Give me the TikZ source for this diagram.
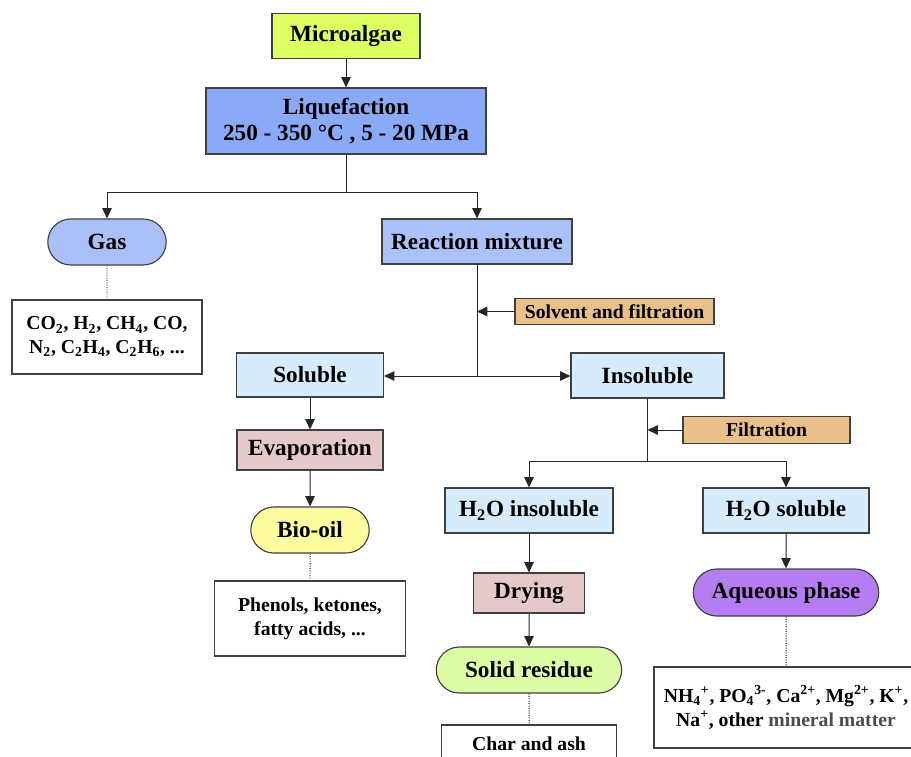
\documentclass[tikz,border=0pt]{standalone}
\usepackage{fontspec}
\setmainfont{Liberation Serif}
\usetikzlibrary{arrows.meta,shapes.misc}
\definecolor{microfill}{HTML}{DCFF62}
\definecolor{liqfill}{HTML}{8AA9F7}
\definecolor{gasfill}{HTML}{AABFF7}
\definecolor{mixfill}{HTML}{AAC1FA}
\definecolor{solfill}{HTML}{D6ECFC}
\definecolor{dryfill}{HTML}{E5C8C8}
\definecolor{oilfill}{HTML}{FCFC9E}
\definecolor{solvfill}{HTML}{E9C08A}
\definecolor{resfill}{HTML}{DDFCA6}
\definecolor{aqfill}{HTML}{B57DF1}

\begin{document}
\begin{tikzpicture}[x=0.025cm, y=-0.025cm, >={Triangle[length=2.6mm, width=2.4mm]},
	every node/.style={draw=black!75, line width=0.8pt, align=center, inner sep=2pt, font=\bfseries\fontsize{16.5}{19}\selectfont},
	pill/.style={rounded rectangle, minimum height=1.15cm},
	note/.style={fill=solvfill, minimum height=0.66cm, font=\bfseries\fontsize{14}{16.5}\selectfont},
	list/.style={fill=white, font=\bfseries\fontsize{14}{17}\selectfont},
	link/.style={line width=0.7pt, black!85},
	trace/.style={line width=0.7pt, black, densely dotted}]
	\useasboundingbox (0,0) rectangle (911,756);
	\clip (0,0) rectangle (911,756);
	\node[fill=microfill, minimum width=3.7cm, minimum height=1.125cm] (micro) at (346,36) {Microalgae};
	\node[fill=liqfill, minimum width=7cm, minimum height=1.65cm] (liq) at (346,121) {Liquefaction\\250 - 350 °C , 5 - 20 MPa};
	\node[pill, fill=gasfill, minimum width=3.1cm] (gas) at (107,242) {Gas};
	\node[list, minimum width=4.75cm, minimum height=1.85cm] (gasprod) at (107,337) {CO\textsubscript{2}, H\textsubscript{2}, CH\textsubscript{4}, CO,\\N\textsubscript{2}, C\textsubscript{2}H\textsubscript{4}, C\textsubscript{2}H\textsubscript{6}, ...};
	\node[fill=mixfill, minimum width=4.75cm, minimum height=1.125cm] (mix) at (477,241.5) {Reaction mixture};
	\node[note, minimum width=4.975cm] (solvent) at (614.5,311.5) {Solvent and filtration};
	\node[fill=solfill, minimum width=3.675cm, minimum height=1.1cm] (sol) at (310,375) {Soluble};
	\node[fill=solfill, minimum width=3.825cm, minimum height=1.125cm] (insol) at (647.5,375.5) {Insoluble};
	\node[fill=dryfill, minimum width=3.65cm, minimum height=1cm] (evap) at (310,450) {Evaporation};
	\node[pill, fill=oilfill, minimum width=3.1cm] (oil) at (310,530) {Bio-oil};
	\node[list, minimum width=4.775cm, minimum height=1.875cm] (oilprod) at (310,618.5) {Phenols, ketones,\\fatty acids, ...};
	\node[note, minimum width=4.175cm] (filt) at (766.5,430) {Filtration};
	\node[fill=solfill, minimum width=4.2cm, minimum height=1.125cm] (h2oin) at (529,510.5) {H\textsubscript{2}O insoluble};
	\node[fill=solfill, minimum width=4.15cm, minimum height=1.125cm] (h2osol) at (786,510.5) {H\textsubscript{2}O soluble};
	\node[fill=dryfill, minimum width=2.775cm, minimum height=1cm] (dry) at (529,593) {Drying};
	\node[pill, fill=resfill, minimum width=4.775cm] (res) at (529,670) {Solid residue};
	\node[list, minimum width=4.375cm, minimum height=0.95cm] (resprod) at (529,744) {Char and ash};
	\node[pill, fill=aqfill, minimum width=4.775cm, minimum height=1.175cm] (aq) at (786,592.5) {Aqueous phase};
	\node[list, minimum width=6.6cm, minimum height=2.025cm] (aqprod) at (786,707.5) {NH\textsubscript{4}\textsuperscript{+}, PO\textsubscript{4}\textsuperscript{3-}, Ca\textsuperscript{2+}, Mg\textsuperscript{2+}, K\textsuperscript{+},\\Na\textsuperscript{+}, other {\color{black!70}mineral matter}};
	\coordinate (split1) at (346,192);
	\coordinate (split2) at (477,376);
	\coordinate (split3) at (647.5,461);
	\draw[link, ->] (micro) -- (liq);
	\draw[link] (liq) -- (split1);
	\draw[link, ->] (split1) -| (gas.north);
	\draw[link, ->] (split1) -| (mix.north);
	\draw[trace] (gas) -- (gasprod);
	\draw[link] (mix) -- (split2);
	\draw[link, ->] (solvent.west) -- (solvent.west -| mix.south);
	\draw[link, ->] (split2) -- (split2 -| sol.east);
	\draw[link, ->] (split2) -- (split2 -| insol.west);
	\draw[link, ->] (sol) -- (evap);
	\draw[link, ->] (evap) -- (oil);
	\draw[trace] (oil) -- (oilprod);
	\draw[link] (insol) -- (split3);
	\draw[link, ->] (filt.west) -- (filt.west -| insol.south);
	\draw[link, ->] (split3) -| (h2oin.north);
	\draw[link, ->] (split3) -| (h2osol.north);
	\draw[link, ->] (h2oin) -- (dry);
	\draw[link, ->] (dry) -- (res);
	\draw[trace] (res) -- (resprod);
	\draw[link, ->] (h2osol) -- (aq);
	\draw[trace] (aq) -- (aqprod);
\end{tikzpicture}
\end{document}
